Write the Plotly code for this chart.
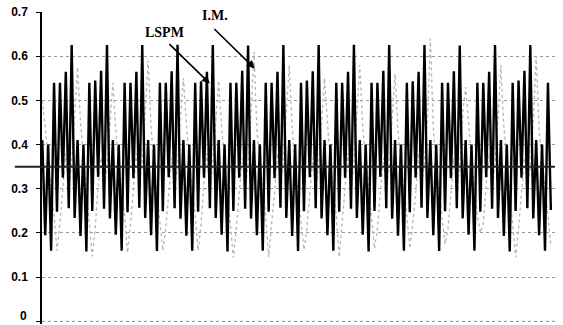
import plotly.graph_objects as go

# LSPM series: alternating spike / trough samples
lspm = [
    0.41, 0.195, 0.40, 0.160, 0.54, 0.248, 0.54, 0.325, 0.565, 0.256, 0.625, 0.234,
    0.41, 0.193, 0.40, 0.158, 0.54, 0.250, 0.545, 0.327, 0.567, 0.255, 0.625, 0.233,
    0.41, 0.196, 0.40, 0.160, 0.54, 0.247, 0.54, 0.324, 0.565, 0.257, 0.625, 0.234,
    0.41, 0.195, 0.40, 0.159, 0.54, 0.249, 0.54, 0.326, 0.566, 0.256, 0.626, 0.232,
    0.41, 0.194, 0.40, 0.160, 0.54, 0.248, 0.543, 0.325, 0.565, 0.256, 0.625, 0.234,
    0.41, 0.196, 0.40, 0.158, 0.54, 0.250, 0.54, 0.325, 0.567, 0.255, 0.624, 0.233,
    0.41, 0.195, 0.40, 0.160, 0.54, 0.248, 0.54, 0.324, 0.565, 0.257, 0.625, 0.234,
    0.41, 0.193, 0.40, 0.159, 0.54, 0.249, 0.545, 0.326, 0.566, 0.256, 0.625, 0.233,
    0.41, 0.195, 0.40, 0.160, 0.54, 0.248, 0.54, 0.325, 0.565, 0.255, 0.626, 0.234,
    0.41, 0.196, 0.40, 0.158, 0.54, 0.250, 0.54, 0.327, 0.567, 0.256, 0.625, 0.232,
    0.41, 0.194, 0.40, 0.160, 0.54, 0.247, 0.543, 0.325, 0.565, 0.257, 0.625, 0.234,
    0.41, 0.195, 0.40, 0.159, 0.54, 0.249, 0.54, 0.324, 0.566, 0.256, 0.624, 0.233,
    0.41, 0.196, 0.40, 0.160, 0.54, 0.248, 0.54, 0.326, 0.565, 0.255, 0.625, 0.234,
    0.41, 0.193, 0.40, 0.158, 0.54, 0.250, 0.545, 0.325, 0.567, 0.256, 0.625, 0.233,
    0.41, 0.195, 0.40, 0.160, 0.54, 0.252,
]

# I.M. series (light gray, mostly hidden behind LSPM)
im = [
    0.50, 0.44, 0.36, 0.30, 0.24, 0.16, 0.22, 0.30, 0.38, 0.30, 0.36, 0.46,
    0.575, 0.45, 0.37, 0.29, 0.23, 0.147, 0.21, 0.31, 0.37, 0.29, 0.35, 0.45,
    0.54, 0.43, 0.36, 0.30, 0.24, 0.155, 0.22, 0.30, 0.38, 0.31, 0.36, 0.47,
    0.59, 0.44, 0.35, 0.29, 0.23, 0.16, 0.21, 0.29, 0.37, 0.30, 0.35, 0.46,
    0.55, 0.45, 0.36, 0.30, 0.24, 0.16, 0.22, 0.31, 0.38, 0.29, 0.36, 0.45,
    0.545, 0.44, 0.37, 0.29, 0.23, 0.144, 0.21, 0.30, 0.37, 0.30, 0.35, 0.47,
    0.61, 0.43, 0.36, 0.30, 0.24, 0.145, 0.22, 0.29, 0.38, 0.31, 0.36, 0.46,
    0.58, 0.44, 0.35, 0.29, 0.23, 0.162, 0.21, 0.30, 0.37, 0.30, 0.35, 0.45,
    0.55, 0.45, 0.36, 0.30, 0.24, 0.145, 0.22, 0.31, 0.38, 0.29, 0.36, 0.47,
    0.58, 0.44, 0.37, 0.29, 0.23, 0.165, 0.21, 0.30, 0.37, 0.30, 0.35, 0.46,
    0.56, 0.43, 0.36, 0.30, 0.24, 0.165, 0.22, 0.29, 0.38, 0.31, 0.36, 0.45,
    0.64, 0.44, 0.35, 0.29, 0.23, 0.175, 0.21, 0.30, 0.37, 0.30, 0.35, 0.47,
    0.53, 0.45, 0.36, 0.30, 0.24, 0.20, 0.22, 0.31, 0.38, 0.29, 0.36, 0.46,
    0.58, 0.44, 0.37, 0.29, 0.23, 0.145, 0.21, 0.30, 0.37, 0.30, 0.35, 0.45,
    0.60, 0.43, 0.36, 0.30, 0.24, 0.17,
]

reference_level = 0.35
y_ticks = [0, 0.1, 0.2, 0.3, 0.4, 0.5, 0.6, 0.7]
y_tick_labels = ["0", "0.1", "0.2", "0.3", "0.4", "0.5", "0.6", "0.7"]

x_lspm = list(range(len(lspm)))
x_im = list(range(len(im)))

tick_font = dict(family="Liberation Sans", size=12, color="#000", weight="bold")

fig = go.Figure()
fig.add_trace(go.Scatter(
    x=x_im, y=im, mode="lines", name="I.M.",
    line=dict(color="#b4b4b4", width=1.3, dash="dot"),
))
fig.add_trace(go.Scatter(
    x=x_lspm, y=lspm, mode="lines", name="LSPM",
    line=dict(color="#000000", width=2.4),
))

# dotted baseline at 0
fig.add_shape(type="line", xref="paper", yref="y", x0=0, x1=1.0, y0=0, y1=0,
              line=dict(color="#9a9a9a", width=1, dash="dot"), layer="below")
# reference level line
fig.add_shape(type="line", xref="paper", yref="y",
              x0=-0.053, x1=1.0, y0=reference_level, y1=reference_level,
              line=dict(color="#222222", width=2), layer="above")

# Arrows
fig.add_annotation(x=57.0, y=0.538, ax=-42, ay=-41, text="", showarrow=True,
                   arrowhead=2, arrowsize=1, arrowwidth=1.6, arrowcolor="#000",
                   standoff=0, startstandoff=0)
fig.add_annotation(x=72.3, y=0.572, ax=-42, ay=-41, text="", showarrow=True,
                   arrowhead=2, arrowsize=1, arrowwidth=1.6, arrowcolor="#000",
                   standoff=0, startstandoff=0)
# Labels
fig.add_annotation(x=41.4, y=0.653, text="<b>LSPM</b>", showarrow=False,
                   font=dict(family="Liberation Serif", size=14, color="#000"))
fig.add_annotation(x=58.7, y=0.691, text="<b>I.M.</b>", showarrow=False,
                   font=dict(family="Liberation Serif", size=14, color="#000"))
# bottom "0" tick label (kept fully visible)
fig.add_annotation(xref="paper", yref="paper", x=-0.025, y=0, xanchor="right",
                   yanchor="bottom", yshift=-1, text=y_tick_labels[0],
                   showarrow=False, font=tick_font)

fig.update_layout(
    template="none",
    width=563, height=325,
    margin=dict(l=42, r=8, t=12, b=1, autoexpand=False),
    paper_bgcolor="white", plot_bgcolor="white",
    showlegend=False,
    font=dict(family="Liberation Sans", color="#000"),
)
fig.update_xaxes(range=[-0.1, 174.4], showgrid=False, zeroline=False,
                 showline=False, showticklabels=False, ticks="", automargin=False)
fig.update_yaxes(range=[-0.006, 0.7], tickvals=y_ticks,
                 ticktext=[""] + y_tick_labels[1:],
                 showgrid=True, gridcolor="#9a9a9a", griddash="dot", gridwidth=1,
                 zeroline=False, showline=True, linecolor="#000", linewidth=1.5,
                 ticks="outside", ticklen=4, tickcolor="#000", tickwidth=1,
                 ticklabelstandoff=6, ticklabeloverflow="allow", automargin=False,
                 tickfont=tick_font)

fig.write_html(
    "out.html",
    config={"displayModeBar": False},
    post_script="document.body.style.margin='0';document.body.style.padding='0';document.body.style.overflow='hidden';",
)
